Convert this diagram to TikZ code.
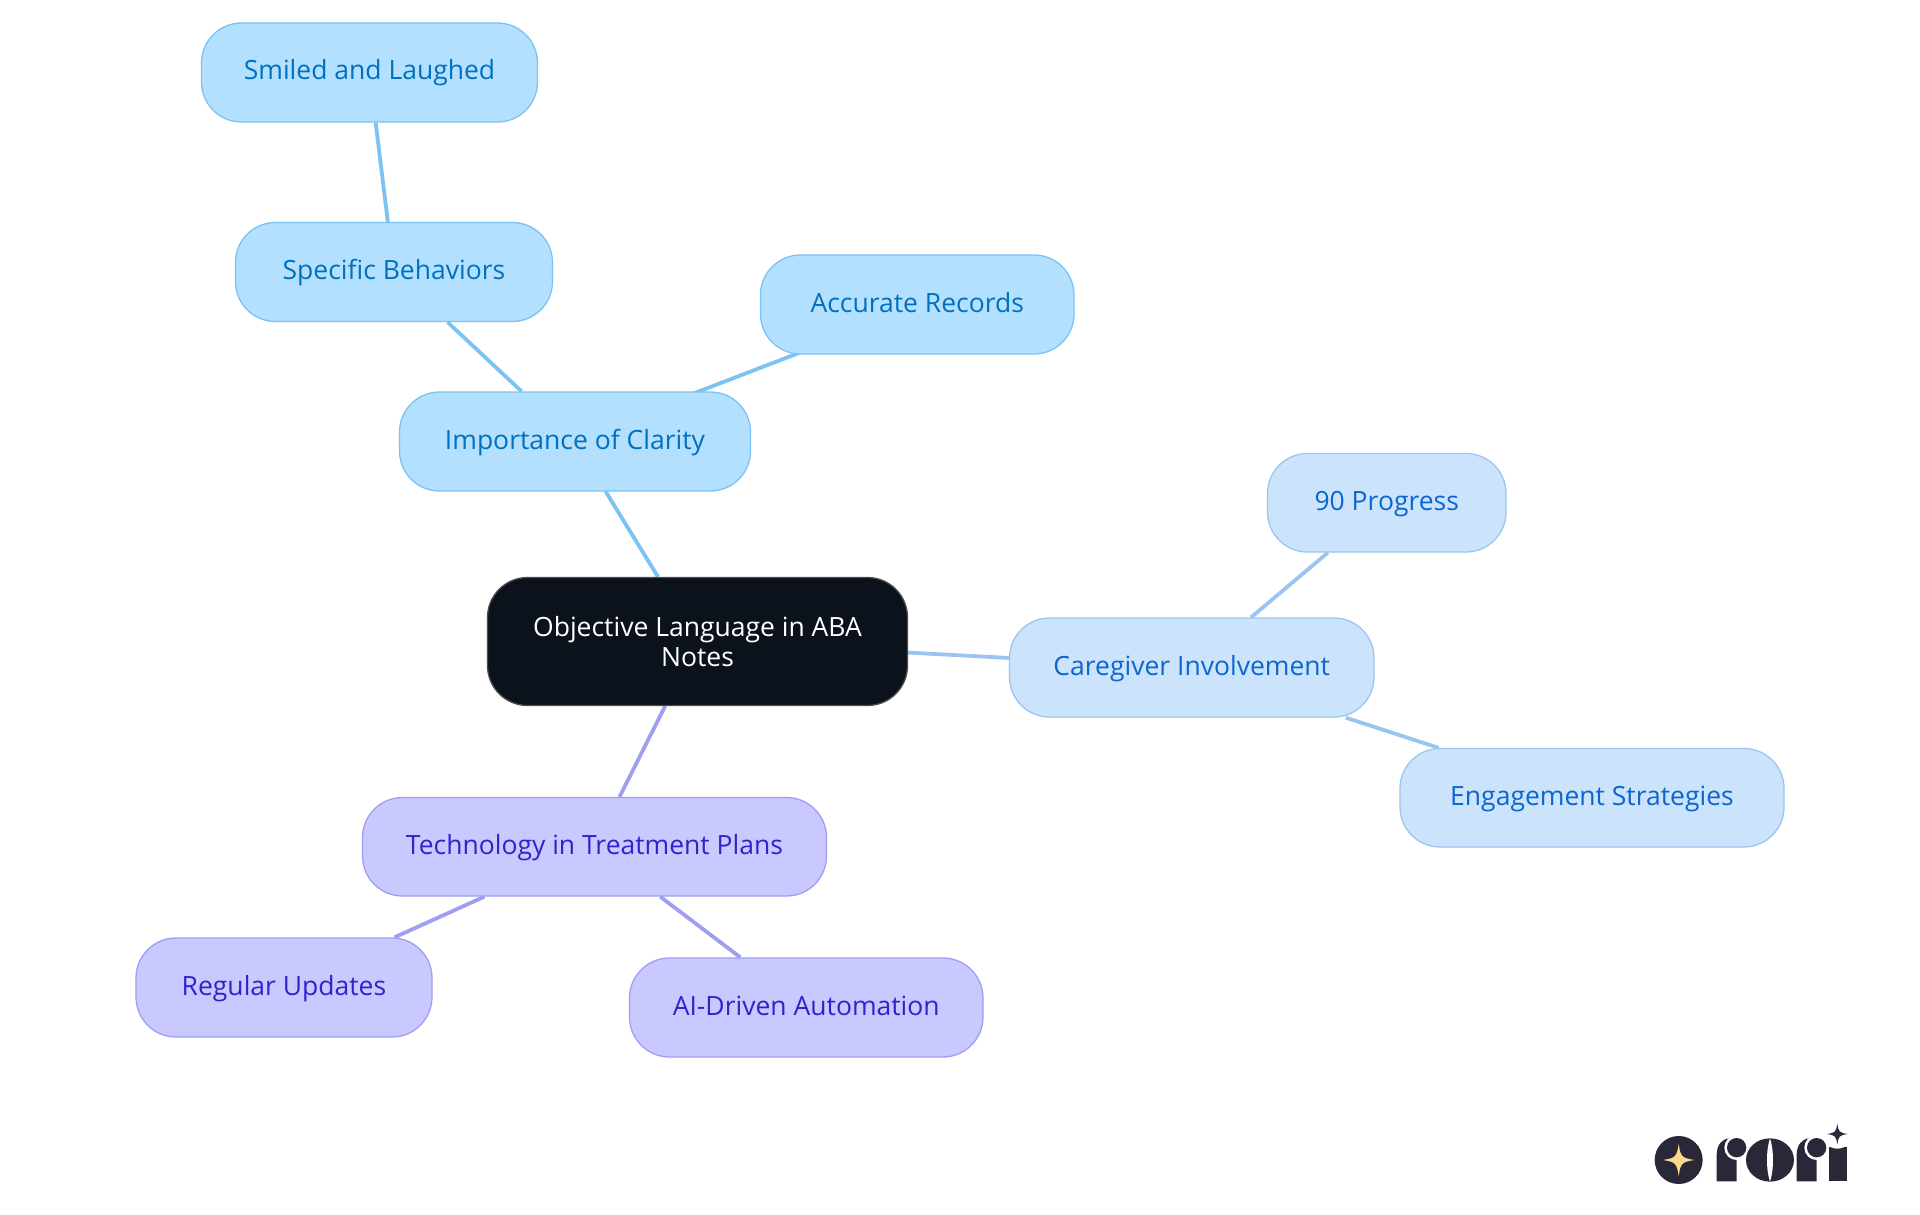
\documentclass[tikz,border=0pt]{standalone}
\usepackage{fontspec}
\setmainfont{Open Sans}
\usetikzlibrary{backgrounds}
\definecolor{bluefill}{HTML}{B3E0FF}
\definecolor{bluedraw}{HTML}{7CC2F2}
\definecolor{bluetext}{HTML}{0070BF}
\definecolor{skyfill}{HTML}{CCE3FC}
\definecolor{skydraw}{HTML}{9BC5F1}
\definecolor{skytext}{HTML}{0B66CF}
\definecolor{violetfill}{HTML}{C9C9FF}
\definecolor{violetdraw}{HTML}{9E9EF2}
\definecolor{violettext}{HTML}{3322CC}
\definecolor{corefill}{HTML}{0B121B}
\definecolor{logodark}{HTML}{292838}
\definecolor{logostar}{HTML}{FBD98B}
\tikzset{
  mapnode/.style={rectangle,rounded corners=40pt,line width=1.3pt,inner sep=0pt,
    font=\fontsize{26.5}{30}\selectfont,text height=23pt,text depth=8pt,align=center},
  bluenode/.style={mapnode,fill=bluefill,draw=bluedraw,text=bluetext},
  skynode/.style={mapnode,fill=skyfill,draw=skydraw,text=skytext},
  violetnode/.style={mapnode,fill=violetfill,draw=violetdraw,text=violettext},
  corenode/.style={rectangle,rounded corners=40pt,line width=1.3pt,inner sep=0pt,align=center,
    fill=corefill,draw=black!70!white,text=white,font=\fontsize{26.5}{30}\selectfont},
  link/.style={line width=3.8pt},
  bluelink/.style={link,draw=bluedraw},
  skylink/.style={link,draw=skydraw},
  violetlink/.style={link,draw=violetdraw}
}
\newcommand{\boxat}[7]{% name style left top right bottom text
  \node[#2,minimum width={(#5-#3)*1pt},minimum height={(#6-#4)*1pt}] (#1) at ({(#3+#5)/2},{(#4+#6)/2}) {#7};}
\newcommand{\fourstar}[4]{% cx cy r colour
  \fill[#4] ({#1-#3},#2) .. controls ({#1-#3*0.2},{#2-#3*0.12}) and ({#1-#3*0.12},{#2-#3*0.2}) .. (#1,{#2-#3})
    .. controls ({#1+#3*0.12},{#2-#3*0.2}) and ({#1+#3*0.2},{#2-#3*0.12}) .. ({#1+#3},#2)
    .. controls ({#1+#3*0.2},{#2+#3*0.12}) and ({#1+#3*0.12},{#2+#3*0.2}) .. (#1,{#2+#3})
    .. controls ({#1-#3*0.12},{#2+#3*0.2}) and ({#1-#3*0.2},{#2+#3*0.12}) .. ({#1-#3},#2) -- cycle;}
\newcommand{\logor}[1]{% stem with ball; #1 = left edge in crop units
  \fill[logodark] (#1,244) -- (#1,165) .. controls (#1,135) and ({#1+15},117) .. ({#1+38},115)
    -- ({#1+60},115) -- ({#1+60},244) -- cycle;
  \fill[white] ({#1+60},143) circle (37);
  \fill[white] ({#1+60},105) rectangle ({#1+100},185);
  \fill[logodark] ({#1+60},143) circle (29);}
\begin{document}
\begin{tikzpicture}[x=1pt,y=-1pt]
\useasboundingbox (0,0) rectangle (1920,1215);
\boxat{smiled}{bluenode}{201.5}{23}{537.5}{122}{Smiled and Laughed}
\boxat{specific}{bluenode}{235.5}{222.5}{552.5}{321.5}{Specific Behaviors}
\boxat{accurate}{bluenode}{760.5}{255}{1074}{354}{Accurate Records}
\boxat{clarity}{bluenode}{399.5}{392}{750.5}{491}{Importance of Clarity}
\boxat{core}{corenode}{487.5}{577.5}{907.5}{705.5}{Objective Language in ABA\\Notes}
\boxat{caregiver}{skynode}{1009.5}{618}{1374}{717}{Caregiver Involvement}
\boxat{progress}{skynode}{1267.5}{453.5}{1506}{552}{90 Progress}
\boxat{engage}{skynode}{1400}{748.5}{1784}{847}{Engagement Strategies}
\boxat{tech}{violetnode}{362.5}{797.5}{826.5}{896}{Technology in Treatment Plans}
\boxat{regular}{violetnode}{136}{938}{432}{1037}{Regular Updates}
\boxat{auto}{violetnode}{629.5}{958}{983}{1057}{AI-Driven Automation}
\begin{pgfonlayer}{background}
\draw[bluelink] (smiled) -- (specific);
\draw[bluelink] (specific) -- (clarity);
\draw[bluelink] ([yshift=2.5pt]clarity.center) -- ([yshift=-3pt]accurate.center);
\draw[bluelink] (clarity) -- (core);
\draw[skylink] (core) -- (caregiver);
\draw[skylink] (caregiver) -- (progress);
\draw[skylink] (caregiver) -- (engage);
\draw[violetlink] (core) -- (tech);
\draw[violetlink] (tech) -- (regular);
\draw[violetlink] (tech) -- (auto);
\end{pgfonlayer}
% logo, in units of the 3x crop
\begin{scope}[shift={(1620,1100)},x=0.3333pt,y=-0.3333pt]
\fill[logodark] (176,180) circle (72);
\fourstar{176}{180}{48}{logostar}
\logor{290}
\fill[logodark] (450,180) ellipse (72 and 65);
\fill[white] (450,115) .. controls (462,150) and (462,210) .. (450,245)
  .. controls (438,210) and (438,150) .. (450,115) -- cycle;
\logor{530}
\fill[logodark] (627,244) rectangle (680,140);
\fill[white] (652,102) circle (44);
\fourstar{652}{102}{31}{logodark}
\end{scope}
\end{tikzpicture}
\end{document}
